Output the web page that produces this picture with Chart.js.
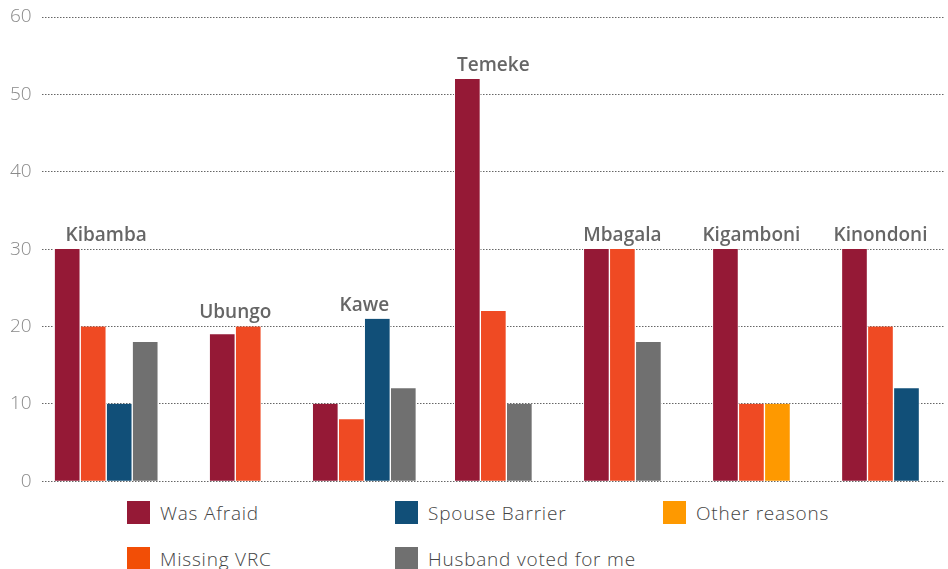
<!DOCTYPE html>
<html>
<head>
<meta charset="utf-8">
<script src="https://cdn.jsdelivr.net/npm/chart.js@4.4.0/dist/chart.umd.min.js"></script>
<style>
  body { margin: 0; background: #fff; font-family: "Open Sans", Lato, sans-serif; }
  #wrap { position: relative; width: 948px; height: 495px; }
  #legend {
    display: grid;
    grid-template-columns: repeat(3, 268px);
    grid-template-rows: repeat(2, 23px);
    grid-auto-flow: column;
    row-gap: 23px;
    margin: 6px 0 0 127px;
  }
  .item { display: flex; align-items: center; font-size: 19px; font-weight: 300; letter-spacing: 0.8px; color: #444; }
  .box { width: 23px; height: 23px; margin-right: 10px; flex: none; }
</style>
</head>
<body>
<div id="wrap"><canvas id="grafica"></canvas></div>
<div id="legend"></div>
<script>
// districts and answers
const districts = ['Kibamba', 'Ubungo', 'Kawe', 'Temeke', 'Mbagala', 'Kigamboni', 'Kinondoni'];
const wasAfraid   = [30, 19, 10, 52, 30, 30, 30];
const missingVRC  = [20, 20, 8, 22, 30, 10, 20];
const spouse      = [10, null, 21, null, null, null, 12];
const husband     = [18, null, 12, 10, 18, null, null];
const otherReason = [null, null, null, null, null, 10, null];
const yTicks = [0, 10, 20, 30, 40, 50, 60];

const series = [
  { label: 'Was Afraid', data: wasAfraid, color: '#951936', key: '#951936' },
  { label: 'Missing VRC', data: missingVRC, color: '#ef4a23', key: '#f24e06' },
  { label: 'Spouse Barrier', data: spouse, color: '#114f78', key: '#114f78' },
  { label: 'Husband voted for me', data: husband, color: '#707070', key: '#707070' },
  { label: 'Other reasons', data: otherReason, color: '#fe9900', key: '#fe9900' }
];

// district name above the tallest bar of each group
const districtLabels = {
  id: 'districtLabels',
  afterDatasetsDraw(chart) {
    const ctx = chart.ctx;
    const x = chart.scales.x, y = chart.scales.y;
    ctx.save();
    ctx.font = '600 19px "Open Sans", sans-serif';
    ctx.fillStyle = '#666';
    ctx.textAlign = 'center';
    ctx.textBaseline = 'alphabetic';
    districts.forEach(function(name, i) {
      let top = 0;
      series.forEach(function(s) { if (s.data[i] != null && s.data[i] > top) top = s.data[i]; });
      ctx.fillText(name, x.getPixelForValue(i), y.getPixelForValue(top) - 8);
    });
    ctx.restore();
  }
};

new Chart(document.getElementById('grafica'), {
  type: 'bar',
  data: {
    labels: districts,
    datasets: series.map(function(s) {
      return {
        label: s.label,
        data: s.data,
        backgroundColor: s.color,
        borderColor: '#fff',
        borderWidth: { left: 1, right: 1 },
        barThickness: 26,
        skipNull: true
      };
    })
  },
  options: {
    responsive: true,
    maintainAspectRatio: false,
    animation: false,
    layout: { autoPadding: false, padding: { top: 17, right: 3, bottom: 10, left: 0 } },
    plugins: { legend: { display: false }, tooltip: { enabled: false } },
    scales: {
      x: { display: false },
      y: {
        min: 0, max: 60,
        afterBuildTicks: function(axis) { axis.ticks = yTicks.map(function(v) { return { value: v }; }); },
        border: { display: false, dash: [1.5, 1.5] },
        grid: { color: '#666', lineWidth: 1, drawTicks: false },
        ticks: { color: '#8a8a8a', padding: 10, font: { family: '"Open Sans"', size: 19, weight: 300, lineHeight: 0.4 } }
      }
    }
  },
  plugins: [districtLabels]
});

// legend, two rows filled column by column
const legend = document.getElementById('legend');
series.forEach(function(s) {
  const item = document.createElement('div');
  item.className = 'item';
  item.innerHTML = '<span class="box" style="background:' + s.key + '"></span>' + s.label;
  legend.appendChild(item);
});
</script>
</body>
</html>
